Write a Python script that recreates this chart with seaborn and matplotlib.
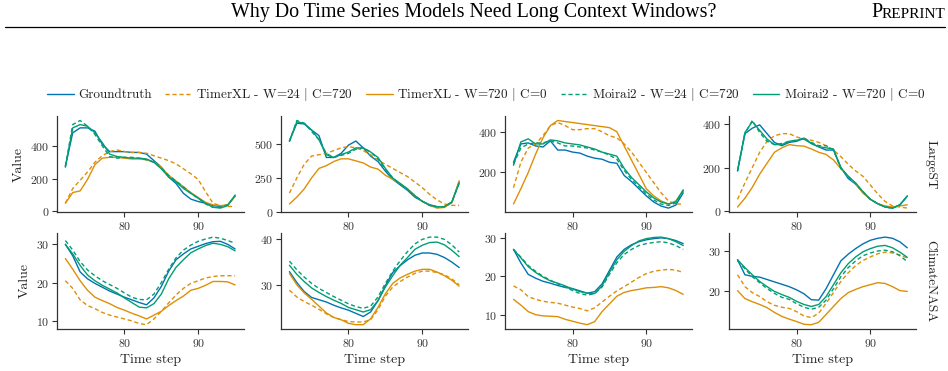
import numpy as np
import pandas as pd
import matplotlib.pyplot as plt
import seaborn as sns
from matplotlib.lines import Line2D

STEPS = list(range(72, 96))
MODELS = ['Groundtruth', 'TimerXL - W=24 $|$ C=720', 'TimerXL - W=720 $|$ C=0',
          'Moirai2 - W=24 $|$ C=720', 'Moirai2 - W=720 $|$ C=0']
DATASETS = ['LargeST', 'ClimateNASA']

# LargeST, panel 1..4
ls1_gt = [275, 480, 510, 510, 490, 410, 365, 365, 365, 360, 360, 350, 310, 270, 210, 170, 110, 75, 60, 50, 35, 30, 40, 95]
ls1_txl24 = [50, 140, 190, 240, 300, 340, 365, 375, 365, 360, 360, 355, 340, 325, 310, 290, 260, 230, 195, 120, 50, 35, 30, 30]
ls1_txl720 = [50, 115, 125, 195, 285, 325, 330, 330, 325, 320, 320, 315, 300, 270, 220, 185, 150, 115, 85, 55, 40, 35, 40, 90]
ls1_moi24 = [275, 530, 555, 520, 470, 400, 335, 325, 330, 330, 325, 315, 300, 265, 220, 185, 150, 110, 80, 45, 25, 25, 40, 95]
ls1_moi720 = [270, 510, 530, 520, 480, 420, 350, 335, 330, 325, 325, 320, 300, 260, 210, 180, 140, 110, 80, 50, 25, 20, 35, 100]

ls2_gt = [520, 650, 645, 600, 560, 400, 400, 430, 490, 520, 470, 410, 370, 300, 240, 200, 160, 110, 80, 55, 40, 40, 70, 220]
ls2_txl24 = [140, 250, 350, 410, 420, 430, 450, 470, 480, 470, 450, 420, 380, 350, 320, 290, 260, 220, 180, 130, 90, 60, 50, 50]
ls2_txl720 = [60, 110, 170, 250, 320, 340, 370, 390, 390, 375, 360, 330, 315, 270, 240, 210, 170, 120, 80, 50, 30, 35, 70, 230]
ls2_moi24 = [515, 670, 650, 590, 530, 430, 400, 415, 430, 460, 470, 440, 390, 310, 250, 205, 165, 120, 80, 50, 40, 40, 75, 210]
ls2_moi720 = [520, 660, 650, 600, 530, 420, 400, 420, 440, 470, 470, 440, 400, 320, 250, 210, 170, 120, 80, 50, 40, 40, 75, 215]

ls3_gt = [250, 340, 345, 330, 325, 355, 310, 310, 300, 295, 280, 270, 265, 250, 245, 185, 155, 120, 85, 55, 35, 25, 40, 100]
ls3_txl24 = [125, 250, 320, 340, 380, 430, 445, 430, 410, 410, 415, 415, 400, 380, 370, 340, 300, 250, 200, 150, 100, 60, 45, 45]
ls3_txl720 = [45, 120, 200, 290, 370, 430, 455, 450, 445, 440, 435, 430, 425, 420, 400, 330, 260, 190, 120, 85, 60, 45, 60, 110]
ls3_moi24 = [240, 320, 340, 345, 345, 355, 345, 330, 330, 325, 320, 310, 300, 285, 265, 210, 165, 130, 95, 65, 45, 38, 50, 110]
ls3_moi720 = [235, 350, 365, 340, 340, 360, 355, 345, 340, 335, 325, 315, 300, 290, 280, 220, 175, 140, 105, 75, 55, 45, 55, 115]

ls4_gt = [185, 355, 380, 395, 355, 315, 300, 315, 320, 335, 310, 295, 280, 280, 200, 150, 125, 85, 55, 35, 20, 15, 30, 70]
ls4_txl24 = [55, 130, 200, 270, 320, 345, 355, 355, 340, 330, 325, 315, 300, 280, 250, 215, 185, 160, 120, 80, 45, 25, 20, 15]
ls4_txl720 = [20, 60, 110, 170, 220, 270, 290, 305, 300, 298, 285, 270, 260, 235, 195, 160, 125, 85, 55, 35, 25, 20, 25, 30]
ls4_moi24 = [185, 355, 415, 360, 320, 305, 310, 320, 325, 335, 315, 300, 300, 280, 195, 160, 125, 90, 55, 35, 20, 15, 30, 70]
ls4_moi720 = [185, 360, 410, 370, 330, 305, 305, 320, 325, 330, 310, 295, 290, 285, 200, 160, 130, 90, 55, 35, 20, 15, 30, 70]

# ClimateNASA, panel 1..4
cn1_gt = [30, 27, 22.8, 21, 19.8, 18.8, 17.8, 17, 16.2, 15.5, 14.8, 14.2, 16, 19, 23, 26, 27.5, 28.8, 29.5, 30.2, 30.7, 30.8, 30, 28.8]
cn1_txl24 = [20.5, 18.5, 15.5, 14, 13.2, 12.2, 11.5, 11, 10.5, 10, 9.3, 9, 10.5, 12.5, 14.7, 16.8, 18.5, 19.8, 20.5, 21.2, 21.6, 21.8, 21.8, 21.8]
cn1_txl720 = [26.3, 23.5, 20.5, 18, 16.2, 15.3, 14.5, 13.5, 12.8, 12, 11.3, 10.5, 11.5, 12.5, 14, 15.3, 16.5, 18, 18.5, 19.3, 20.3, 20.3, 20.2, 19.4]
cn1_moi24 = [31, 28.5, 25.5, 23.3, 21.8, 20.5, 19.5, 18.5, 17.3, 16.2, 15.6, 15.5, 17, 20, 23.5, 26.5, 28.5, 29.8, 30.8, 31.4, 31.9, 31.6, 31, 30.3]
cn1_moi720 = [30, 27.5, 24.5, 22, 20.5, 19.3, 18.3, 17.3, 16, 14.8, 13.6, 13.4, 14.5, 17, 21, 24, 26, 27.8, 28.8, 29.7, 30.3, 30, 29.4, 28.3]

cn2_gt = [32.9, 30.5, 28.5, 27.2, 26.7, 26.2, 25.5, 24.9, 24.4, 23.7, 23.0, 24, 26.5, 29.8, 32.7, 34.2, 35.5, 36.5, 37, 37, 36.7, 36, 35, 33.8]
cn2_txl24 = [28.8, 27.3, 26.3, 25.5, 24.6, 23.6, 22.8, 22.3, 21.9, 21.8, 21.8, 22.3, 24.5, 27.5, 29.5, 30.7, 31.7, 32.5, 33, 33, 32.7, 32.2, 31.3, 30]
cn2_txl720 = [32.5, 30, 28.2, 26.8, 25.3, 23.8, 22.8, 22.3, 21.5, 21.2, 21.2, 22.5, 25, 28, 30.3, 31.5, 32.3, 33, 33.4, 33.4, 32.8, 32, 31, 29.7]
cn2_moi24 = [35.2, 33.3, 31.7, 30.3, 29.2, 28.3, 27.4, 26.6, 25.8, 25.2, 24.8, 25.3, 27.3, 30.3, 33, 35.3, 37.3, 39, 40, 40.5, 40.5, 40, 38.8, 37.2]
cn2_moi720 = [34.3, 32.3, 30.7, 29.3, 28.3, 27.4, 26.6, 25.9, 25, 24.5, 24, 24.5, 26.5, 29.5, 32, 34.3, 36, 37.8, 38.7, 39.3, 39.4, 38.8, 37.6, 36.2]

cn3_gt = [27, 23.5, 20.5, 19.5, 18.7, 18.2, 17.6, 17.1, 16.8, 16.2, 15.6, 16, 18, 21.5, 25, 27, 28.2, 29, 29.5, 29.8, 30, 29.8, 29.3, 28.5]
cn3_txl24 = [17.5, 16.5, 14.7, 14, 13.5, 13.2, 13, 12.5, 12, 11.6, 11, 11.8, 13.3, 14.8, 16.2, 17.3, 18.5, 19.7, 20.7, 21.3, 21.6, 21.8, 21.6, 21]
cn3_txl720 = [14, 12.5, 10.8, 10, 9.7, 9.6, 9.5, 8.8, 8.3, 7.8, 7.4, 8.2, 10.8, 12.8, 14.8, 15.8, 16.3, 16.6, 17, 17.1, 17.3, 17, 16.3, 15.3]
cn3_moi24 = [27, 25, 22.8, 21.3, 20, 19, 18, 17.2, 16.3, 15.5, 15.1, 15.5, 17.2, 20.5, 23.5, 25.7, 27, 28, 28.5, 28.8, 29, 28.7, 28, 27]
cn3_moi720 = [27, 24.8, 22.5, 21, 19.8, 18.8, 18.2, 17.5, 16.7, 16, 15.6, 15.5, 17.5, 21, 24.3, 26.5, 28, 29.2, 29.8, 30.1, 30.2, 29.8, 29, 28]

cn4_gt = [27.8, 24, 23.6, 23.4, 22.8, 22.2, 21.6, 21, 20.2, 19.2, 17.7, 17.6, 20.5, 24, 27.5, 29.2, 30.6, 31.8, 32.7, 33.2, 33.5, 33.2, 32.3, 30.8]
cn4_txl24 = [24, 21, 19.5, 18.5, 17.2, 16.3, 15.8, 15.5, 14.7, 13.6, 13.2, 14.3, 16.8, 19.5, 22.3, 24.5, 26.3, 27.6, 28.5, 29.3, 29.7, 29.5, 29, 28.2]
cn4_txl720 = [20, 18, 17.2, 16.5, 15.7, 14.5, 13.5, 12.8, 12.2, 11.5, 11.4, 12, 14, 16, 18, 19.5, 20.3, 21, 21.5, 22, 21.8, 21, 20, 19.8]
cn4_moi24 = [27.5, 25.5, 23.5, 22, 20.5, 19.3, 18.3, 17.8, 16.7, 15.8, 15.3, 15.8, 17.6, 20.5, 23.5, 25.8, 27.5, 28.8, 29.5, 30, 30.2, 29.8, 28.8, 27.3]
cn4_moi720 = [27.8, 25.8, 24, 22.3, 21, 19.8, 19, 18.3, 17.3, 16.5, 16, 16.5, 18.5, 21.5, 24.5, 26.8, 28.5, 29.8, 30.6, 31.2, 31.4, 30.8, 29.7, 28.4]

YTICKS = [[[0, 200, 400], [0, 250, 500], [200, 400], [0, 200, 400]],
          [[10, 20, 30], [30, 40], [10, 20, 30], [20, 30]]]

panels = [
    [[ls1_gt, ls1_txl24, ls1_txl720, ls1_moi24, ls1_moi720],
     [ls2_gt, ls2_txl24, ls2_txl720, ls2_moi24, ls2_moi720],
     [ls3_gt, ls3_txl24, ls3_txl720, ls3_moi24, ls3_moi720],
     [ls4_gt, ls4_txl24, ls4_txl720, ls4_moi24, ls4_moi720]],
    [[cn1_gt, cn1_txl24, cn1_txl720, cn1_moi24, cn1_moi720],
     [cn2_gt, cn2_txl24, cn2_txl720, cn2_moi24, cn2_moi720],
     [cn3_gt, cn3_txl24, cn3_txl720, cn3_moi24, cn3_moi720],
     [cn4_gt, cn4_txl24, cn4_txl720, cn4_moi24, cn4_moi720]],
]

sns.set_theme(style="ticks")
plt.rcParams['font.family'] = ['cmr10']
plt.rcParams['mathtext.fontset'] = 'cm'
plt.rcParams['axes.formatter.use_mathtext'] = True
plt.rcParams['axes.edgecolor'] = '#333333'
plt.rcParams['text.color'] = '#222222'
plt.rcParams['axes.labelcolor'] = '#222222'
plt.rcParams['xtick.color'] = '#333333'
plt.rcParams['ytick.color'] = '#333333'

cb = sns.color_palette("colorblind")
palette = dict(zip(MODELS, [cb[0], cb[1], cb[1], cb[2], cb[2]]))
dashes = dict(zip(MODELS, ["", (3, 2), "", (3, 2), ""]))

fig, axes = plt.subplots(2, 4, figsize=(9.48, 3.71), dpi=100)
fig.subplots_adjust(left=0.060, right=0.966, top=0.687, bottom=0.113, wspace=0.20, hspace=0.21)

for r in range(2):
    for c in range(4):
        ax = axes[r, c]
        rows = []
        for m, vals in zip(MODELS, panels[r][c]):
            rows += [{'step': s, 'value': v, 'model': m} for s, v in zip(STEPS, vals)]
        df = pd.DataFrame(rows)
        sns.lineplot(data=df, x='step', y='value', hue='model', style='model',
                     palette=palette, dashes=dashes, hue_order=MODELS, style_order=MODELS,
                     lw=1.0, legend=False, ax=ax)
        ax.set_xticks([80, 90])
        ax.set_yticks(YTICKS[r][c])
        ax.tick_params(labelsize=8.5, length=3.5, width=0.8, pad=2)
        ax.set_xlabel('Time step' if r == 1 else '', fontsize=10)
        ax.set_ylabel('Value' if c == 0 else '', fontsize=10)
        for sp in ax.spines.values():
            sp.set_linewidth(0.9)
    axes[r, 3].text(1.08, 0.5, DATASETS[r], transform=axes[r, 3].transAxes,
                    rotation=270, va='center', ha='center', fontsize=9.5)
sns.despine(fig)

handles = [Line2D([], [], color=palette[m], lw=1.0,
                  linestyle=(0, (3, 2)) if dashes[m] else '-') for m in MODELS]
fig.legend(handles, MODELS, loc='center', bbox_to_anchor=(0.513, 0.744), ncol=5,
           frameon=False, fontsize=9.5, handlelength=2.0, columnspacing=1.0, handletextpad=0.35)

# page header
fig.text(0.5, 0.965, 'Why Do Time Series Models Need Long Context Windows?',
         ha='center', va='center', fontsize=14.4, family='Liberation Serif', color='black')
fig.text(0.997, 0.962, 'REPRINT', ha='right', va='center', fontsize=11, family='Liberation Serif', color='black')
fig.text(0.931, 0.965, 'P', ha='right', va='center', fontsize=14.4, family='Liberation Serif', color='black')
fig.add_artist(Line2D([0.005, 0.997], [0.927, 0.927], color='black', lw=0.9, transform=fig.transFigure))

fig.savefig('out.png', dpi=100)
